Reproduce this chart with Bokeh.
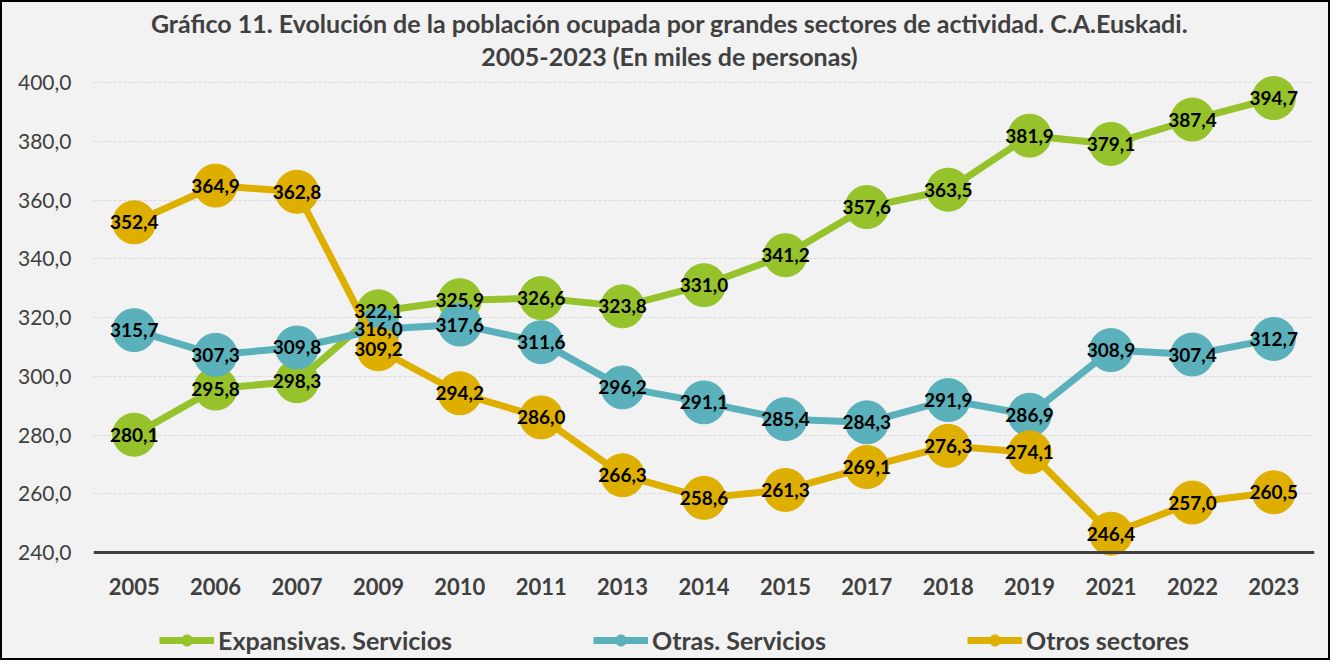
from bokeh.plotting import figure
from bokeh.layouts import column
from bokeh.models import (FactorRange, Range1d, FixedTicker, Span, Label, Legend, LegendItem,
                          ColumnDataSource)
from bokeh.core.properties import value
from bokeh.embed import file_html
from bokeh.resources import INLINE

years = ["2005", "2006", "2007", "2009", "2010", "2011", "2013", "2014", "2015",
         "2017", "2018", "2019", "2021", "2022", "2023"]
expansivas = [280.1, 295.8, 298.3, 322.1, 325.9, 326.6, 323.8, 331.0, 341.2,
              357.6, 363.5, 381.9, 379.1, 387.4, 394.7]
otras = [315.7, 307.3, 309.8, 316.0, 317.6, 311.6, 296.2, 291.1, 285.4,
         284.3, 291.9, 286.9, 308.9, 307.4, 312.7]
otros = [352.4, 364.9, 362.8, 309.2, 294.2, 286.0, 266.3, 258.6, 261.3,
         269.1, 276.3, 274.1, 246.4, 257.0, 260.5]
series_names = ["Expansivas. Servicios", "Otras. Servicios", "Otros sectores"]
y_ticks = [240, 260, 280, 300, 320, 340, 360, 380, 400]
title_lines = ["Gráfico 11. Evolución de la población ocupada por grandes sectores de actividad. C.A.Euskadi.",
               "2005-2023 (En miles de personas)"]

colors = ["#96C22B", "#5AB1BB", "#DFAF00"]
FONT = "Lato"
GRAY = "#404040"
BG = "#F2F2F2"

W, H = 1326, 656
H1 = 610
ML, MR, MT, MB = 91, 14, 0, 48
FW, FH = W - ML - MR, H1 - MT - MB
PXU = 2.9375          # pixels per unit
Y240 = 550            # pixel row (from top) of the 240 line
YTOP = 240 + Y240 / PXU
YBOT = 240 - (FH - Y240) / PXU

p = figure(width=W, height=H1, x_range=FactorRange(*years), y_range=Range1d(YBOT, YTOP),
           output_backend="svg", toolbar_location=None,
           min_border_left=ML, min_border_right=MR, min_border_top=MT, min_border_bottom=MB,
           background_fill_color=BG, border_fill_color=BG)
p.outline_line_color = None

# axes
p.yaxis.ticker = FixedTicker(ticks=y_ticks)
p.yaxis.major_label_overrides = {t: f"{t},0" for t in y_ticks}
p.yaxis.axis_line_color = None
p.yaxis.major_tick_line_color = None
p.yaxis.minor_tick_line_color = None
p.yaxis.major_label_text_font = FONT
p.yaxis.major_label_text_font_size = "21px"
p.yaxis.major_label_text_color = GRAY
p.yaxis.major_label_standoff = 16

p.xaxis.axis_line_color = None
p.xaxis.major_tick_line_color = None
p.xaxis.minor_tick_line_color = None
p.xaxis.major_label_text_font = FONT
p.xaxis.major_label_text_font_style = "bold"
p.xaxis.major_label_text_font_size = "22px"
p.xaxis.major_label_text_color = GRAY
p.xaxis.major_label_standoff = 7

p.xgrid.grid_line_color = None
p.ygrid.ticker = FixedTicker(ticks=y_ticks)
p.ygrid.grid_line_color = "#D9D9D9"
p.ygrid.grid_line_dash = "3 2"
p.ygrid.grid_line_width = 1

p.add_layout(Span(location=240, dimension="width", line_color=GRAY, line_width=3))

all_series = [expansivas, otras, otros]
for vals, col in zip(all_series, colors):
    src = ColumnDataSource(dict(x=years, y=vals))
    p.line("x", "y", source=src, line_color=col, line_width=7)
    p.scatter("x", "y", source=src, size=43, fill_color=col, line_color=col)

for vals in all_series:
    src = ColumnDataSource(dict(x=years, y=vals, t=[f"{v:.1f}".replace(".", ",") for v in vals]))
    p.text("x", "y", text="t", source=src, text_align="center", text_baseline="middle",
           text_font=value(FONT), text_font_style="bold", text_font_size="19px",
           text_color="#000000")

# title (inside the frame, which reaches the top of the figure)
for txt, yy in zip(title_lines, [20, 53]):
    p.add_layout(Label(x=576, y=FH - yy, x_units="screen", y_units="screen", text=txt,
                       text_align="center", text_baseline="middle",
                       text_font=FONT, text_font_style="bold", text_font_size="25px",
                       text_color=GRAY))

# legend strip
H2 = H - H1
lf = figure(width=W, height=H2, x_range=Range1d(0, 1), y_range=Range1d(0, 1),
            x_axis_type=None, y_axis_type=None, output_backend="svg", toolbar_location=None,
            min_border=0, background_fill_color=BG, border_fill_color=BG)
lf.outline_line_color = None
lf.xgrid.grid_line_color = None
lf.ygrid.grid_line_color = None
nan = float("nan")
items = []
for name, col in zip(series_names, colors):
    rl = lf.line(x=[nan, nan], y=[nan, nan], line_color=col, line_width=7)
    rs = lf.scatter(x=[nan], y=[nan], size=16, fill_color=col, line_color=col)
    items.append(LegendItem(label=name, renderers=[rl, rs]))
legend = Legend(items=items, orientation="horizontal", location=(66, 3),
                background_fill_alpha=0, border_line_color=None,
                glyph_width=55, glyph_height=28, label_standoff=4, spacing=141,
                padding=0, margin=0,
                label_text_font=FONT, label_text_font_style="bold",
                label_text_font_size="25px", label_text_color=GRAY)
lf.add_layout(legend, "center")

layout = column(p, lf, spacing=0,
                styles={"border": "2px solid #000000", "background-color": BG})
open("out.html", "w").write(file_html(layout, INLINE))
